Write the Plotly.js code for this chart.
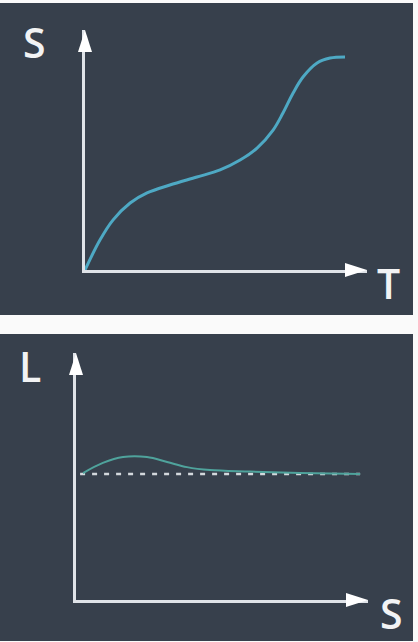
<!DOCTYPE html>
<html>
<head>
<meta charset="utf-8">
<script src="https://cdn.plot.ly/plotly-3.0.1.min.js"></script>
<style>html,body{margin:0;padding:0;background:#fafafa;}#chart{width:418px;height:642px;}</style>
</head>
<body>
<div id="chart"></div>
<script>
// Top panel: S over T (values as fractions of the axis length)
const topT = [0, 0.053, 0.099, 0.160, 0.220, 0.301, 0.397, 0.479, 0.550, 0.610, 0.667, 0.702, 0.738, 0.773, 0.823, 0.869, 0.922];
const topS = [0, 0.125, 0.208, 0.279, 0.321, 0.354, 0.3875, 0.417, 0.458, 0.508, 0.583, 0.654, 0.7375, 0.804, 0.8625, 0.883, 0.8875];
// Bottom panel: L over S
const botS = [0.024, 0.092, 0.161, 0.243, 0.312, 0.380, 0.459, 0.596, 0.767, 0.973];
const botL = [0.514, 0.555, 0.579, 0.579, 0.559, 0.538, 0.526, 0.520, 0.514, 0.510];
const refS = [0.014, 0.973];
const refL = [0.510, 0.510];
const labels = {topY: 'S', topX: 'T', botY: 'L', botX: 'S'};

const W = 418, H = 642;
const px = v => v / W;
const py = v => 1 - v / H;
const panel = '#37404c';
const axisCol = '#dfe3e8';

const traces = [
  {x: topT, y: topS, xaxis: 'x', yaxis: 'y', mode: 'lines', line: {color: '#4ea9c4', width: 3, shape: 'spline'}, hoverinfo: 'skip'},
  {x: refS, y: refL, xaxis: 'x2', yaxis: 'y2', mode: 'lines', line: {color: '#d3d8dc', width: 2.5, dash: '5px,7px'}, hoverinfo: 'skip'},
  {x: botS, y: botL, xaxis: 'x2', yaxis: 'y2', mode: 'lines', line: {color: '#4fa39c', width: 2, shape: 'spline'}, hoverinfo: 'skip'}
];

const ax = (dom, anchor) => ({domain: dom, range: [0, 1], anchor: anchor, showgrid: false, zeroline: false,
  showticklabels: false, ticks: '', showline: true, linecolor: axisCol, linewidth: 3, fixedrange: true});

const xDom1 = [px(85), px(367)], yDom1 = [py(270), py(30)];
const xDom2 = [px(76), px(368)], yDom2 = [py(600), py(353)];

function arrow(xa, ya, path) {
  return {type: 'path', xref: 'paper', yref: 'paper', xsizemode: 'pixel', ysizemode: 'pixel', xanchor: xa, yanchor: ya,
    path: path, fillcolor: '#ffffff', line: {width: 0}, layer: 'above'};
}
const right = 'M 0 0 L -22 7 L -22 -7 Z';
const up = 'M 0 0 L -7 -22 L 7 -22 Z';

const font = {family: 'Open Sans, sans-serif', size: 41, weight: 600, color: '#f2f3f4'};
const lab = (t, x, y) => ({text: t, xref: 'paper', yref: 'paper', x: px(x), y: py(y), xanchor: 'center', yanchor: 'middle', showarrow: false, font: font});

const layout = {
  width: W, height: H, margin: {l: 0, r: 0, t: 0, b: 0},
  paper_bgcolor: '#fafafa', plot_bgcolor: 'rgba(0,0,0,0)', showlegend: false,
  xaxis: ax(xDom1, 'y'),
  yaxis: ax(yDom1, 'x'),
  xaxis2: ax(xDom2, 'y2'),
  yaxis2: ax(yDom2, 'x2'),
  shapes: [
    {type: 'rect', xref: 'paper', yref: 'paper', x0: 0, x1: px(413), y0: py(315), y1: py(3), fillcolor: panel, line: {width: 0}, layer: 'below'},
    {type: 'rect', xref: 'paper', yref: 'paper', x0: 0, x1: px(413), y0: py(641), y1: py(334), fillcolor: panel, line: {width: 0}, layer: 'below'},
    arrow(xDom1[1], yDom1[0], right),
    arrow(xDom1[0], yDom1[1], up),
    arrow(xDom2[1], yDom2[0], right),
    arrow(xDom2[0], yDom2[1], up)
  ],
  annotations: [
    lab(labels.topY, 34, 42),
    lab(labels.topX, 388, 283),
    lab(labels.botY, 30, 366),
    lab(labels.botX, 391, 613)
  ]
};

Plotly.newPlot('chart', traces, layout, {displayModeBar: false, staticPlot: true});
</script>
</body>
</html>
